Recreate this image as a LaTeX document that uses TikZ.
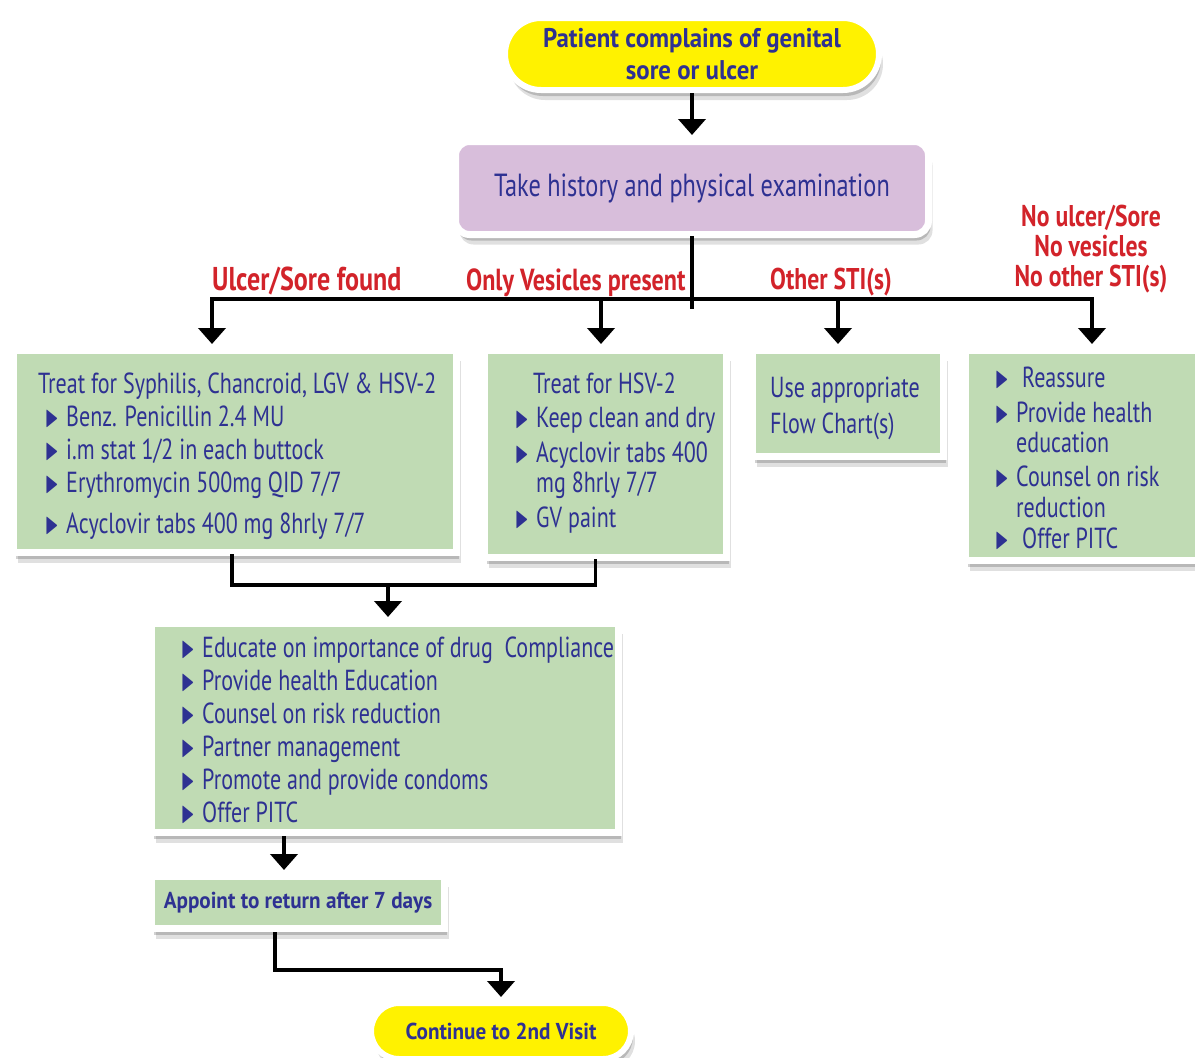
\documentclass[tikz,border=0pt]{standalone}
\usepackage{amssymb}
\usepackage{fontspec}
\setmainfont{PT Sans}[FakeStretch=0.76]
\newfontfamily\boldcond{PT Sans Bold}[FakeStretch=0.92]
\newfontfamily\redcond{PT Sans Bold}[FakeStretch=0.79]
\usetikzlibrary{arrows.meta,shadows}

\definecolor{txtblue}{HTML}{2E3192}
\definecolor{lblred}{HTML}{D2232A}
\definecolor{boxgreen}{HTML}{C0DBB4}
\definecolor{boxpurple}{HTML}{D8BEDB}
\definecolor{pillyellow}{HTML}{FFF200}

% bullets and list lines
\newcommand\bul{\raisebox{0pt}{\scalebox{0.6}[1.05]{$\blacktriangleright$}}}
\newcommand\itm[2][0pt]{\hbox{\hspace*{#1}\makebox[21pt][l]{\bul}#2}}
\newcommand\cnt[1]{\hbox{\hspace*{21pt}#1}}
\newcommand\hd[1]{\hbox{#1}}

\begin{document}
\begin{tikzpicture}[x=1pt,y=-1pt]
  \tikzset{
    shade/.style={general shadow={fill=black, opacity=.12, shadow xshift=4pt, shadow yshift=-10pt},
                  general shadow={fill=black, opacity=.18, shadow xshift=2pt, shadow yshift=-6pt}},
    greenbox/.style={draw=white, line width=7pt, fill=boxgreen, inner sep=0pt, shade},
    pill/.style={draw=white, line width=6pt, fill=pillyellow, text=txtblue, align=center, inner sep=0pt, shade},
    txt/.style={text=txtblue, anchor=base west, inner sep=0pt, font=\fontsize{29}{33}\selectfont},
    branch/.style={text=lblred, inner sep=0pt, font=\fontsize{30}{30}\selectfont\redcond},
    link/.style={line width=3.5pt, line cap=rect},
    flow/.style={line width=4pt, shorten >=3pt, -{Triangle[width=27pt,length=16pt]}}
  }
  \useasboundingbox (0,0) rectangle (1195,1058);

  % start and history
  \node[pill, minimum width=374pt, minimum height=72pt, rounded corners=36pt,
        font=\fontsize{27}{32}\selectfont\boldcond] (start) at (692,54)
        {Patient complains of genital\\sore or ulcer};
  \node[draw=white, line width=7pt, fill=boxpurple, rounded corners=14pt, shade,
        minimum width=473pt, minimum height=93pt, text=txtblue,
        font=\fontsize{32}{33}\selectfont] (hist) at (692,188)
        {Take history and physical examination};

  % boxes
  \node[greenbox, minimum width=443pt, minimum height=202pt] (boxA) at (235,451.5) {};
  \node[greenbox, minimum width=242pt, minimum height=207pt] (boxB) at (605.5,454) {};
  \node[greenbox, minimum width=191pt, minimum height=106pt] (boxC) at (848,403.5) {};
  \node[greenbox, minimum width=245pt, minimum height=210pt] (boxD) at (1088,455.5) {};
  \node[greenbox, minimum width=467pt, minimum height=209pt] (boxE) at (385,728) {};
  \node[greenbox, minimum width=293pt, minimum height=52pt, text=txtblue,
        font=\fontsize{23}{28}\selectfont\boldcond] (boxF) at (298,902.5)
        {Appoint to return after 7 days};
  \node[pill, minimum width=260pt, minimum height=56pt, rounded corners=28pt,
        font=\fontsize{23}{28}\selectfont\boldcond] (finish) at (501,1031)
        {Continue to 2nd Visit};

  % box texts
  \node[txt] (tA) at (38,393) {\vtop{
    \hd{Treat for Syphilis, Chancroid, LGV \& HSV-2}
    \itm[7pt]{Benz. Penicillin 2.4 MU}
    \itm[7pt]{i.m stat 1/2 in each buttock}
    \itm[7pt]{Erythromycin 500mg QID 7/7}
    \vskip 8pt
    \itm[7pt]{Acyclovir tabs 400 mg 8hrly 7/7}}};
  \node[txt] (tB) at (515,393) {\vtop{
    \hd{\hspace*{18pt}Treat for HSV-2}
    \vskip 1pt
    \itm{Keep clean and dry}
    \vskip 2pt
    \itm{Acyclovir tabs 400}
    \vskip -3pt
    \cnt{mg 8hrly 7/7}
    \vskip 2pt
    \itm{GV paint}}};
  \node[txt] (tC) at (770,397) {\vtop{
    \hd{Use appropriate}
    \vskip 3pt
    \hd{Flow Chart(s)}}};
  \node[txt] (tD) at (995,387) {\vtop{
    \itm{\hspace*{6pt}Reassure}
    \vskip 2pt
    \itm{Provide health}
    \vskip -3pt
    \cnt{education}
    \vskip 1pt
    \itm{Counsel on risk}
    \vskip -2pt
    \cnt{reduction}
    \vskip -2pt
    \itm{\hspace*{6pt}Offer PITC}}};
  \node[txt] (tE) at (181,657) {\vtop{
    \itm{Educate on importance of drug\ \ Compliance}
    \itm{Provide health Education}
    \itm{Counsel on risk reduction}
    \itm{Partner management}
    \itm{Promote and provide condoms}
    \itm{Offer PITC}}};

  % branch labels
  \node[branch, anchor=base west, font=\fontsize{33}{30}\selectfont\redcond] (lA) at (212,290) {Ulcer/Sore found};
  \node[branch, anchor=base west, font=\fontsize{30.5}{30}\selectfont\redcond] (lB) at (466,290) {Only Vesicles present};
  \node[branch, anchor=base west] (lC) at (770,289) {Other STI(s)};
  \node[branch, align=center] (lD) at (1091,249) {No ulcer/Sore\\No vesicles\\No other STI(s)};

  % connectors
  \coordinate (stem) at (692,307);
  \coordinate (jA) at (212,299);
  \coordinate (jB) at (601,299);
  \coordinate (jC) at (838,299);
  \coordinate (jD) at (1092,299);
  \coordinate (jE) at (388,585);
  \coordinate (jF) at (275,970);

  \draw[flow] (start) -- (hist);
  \draw[link] (hist.south) -- (stem);
  \draw[link] (jA) -- (jD);
  \draw[flow] (jA) -- (jA |- boxA.north);
  \draw[flow] (jB) -- (jB |- boxB.north);
  \draw[flow] (jC) -- (jC |- boxC.north);
  \draw[flow] (jD) -- (jD |- boxD.north);
  \draw[link] ([xshift=-3pt]boxA.south) |- (jE) -| ([xshift=-10pt]boxB.south);
  \draw[flow] (jE) -- (jE |- boxE.north);
  \draw[flow] ([xshift=-14pt]boxF.north |- boxE.south) -- ([xshift=-14pt]boxF.north);
  \draw[flow] ([xshift=-23pt]boxF.south) -- (jF) -| (finish.north);
\end{tikzpicture}
\end{document}
